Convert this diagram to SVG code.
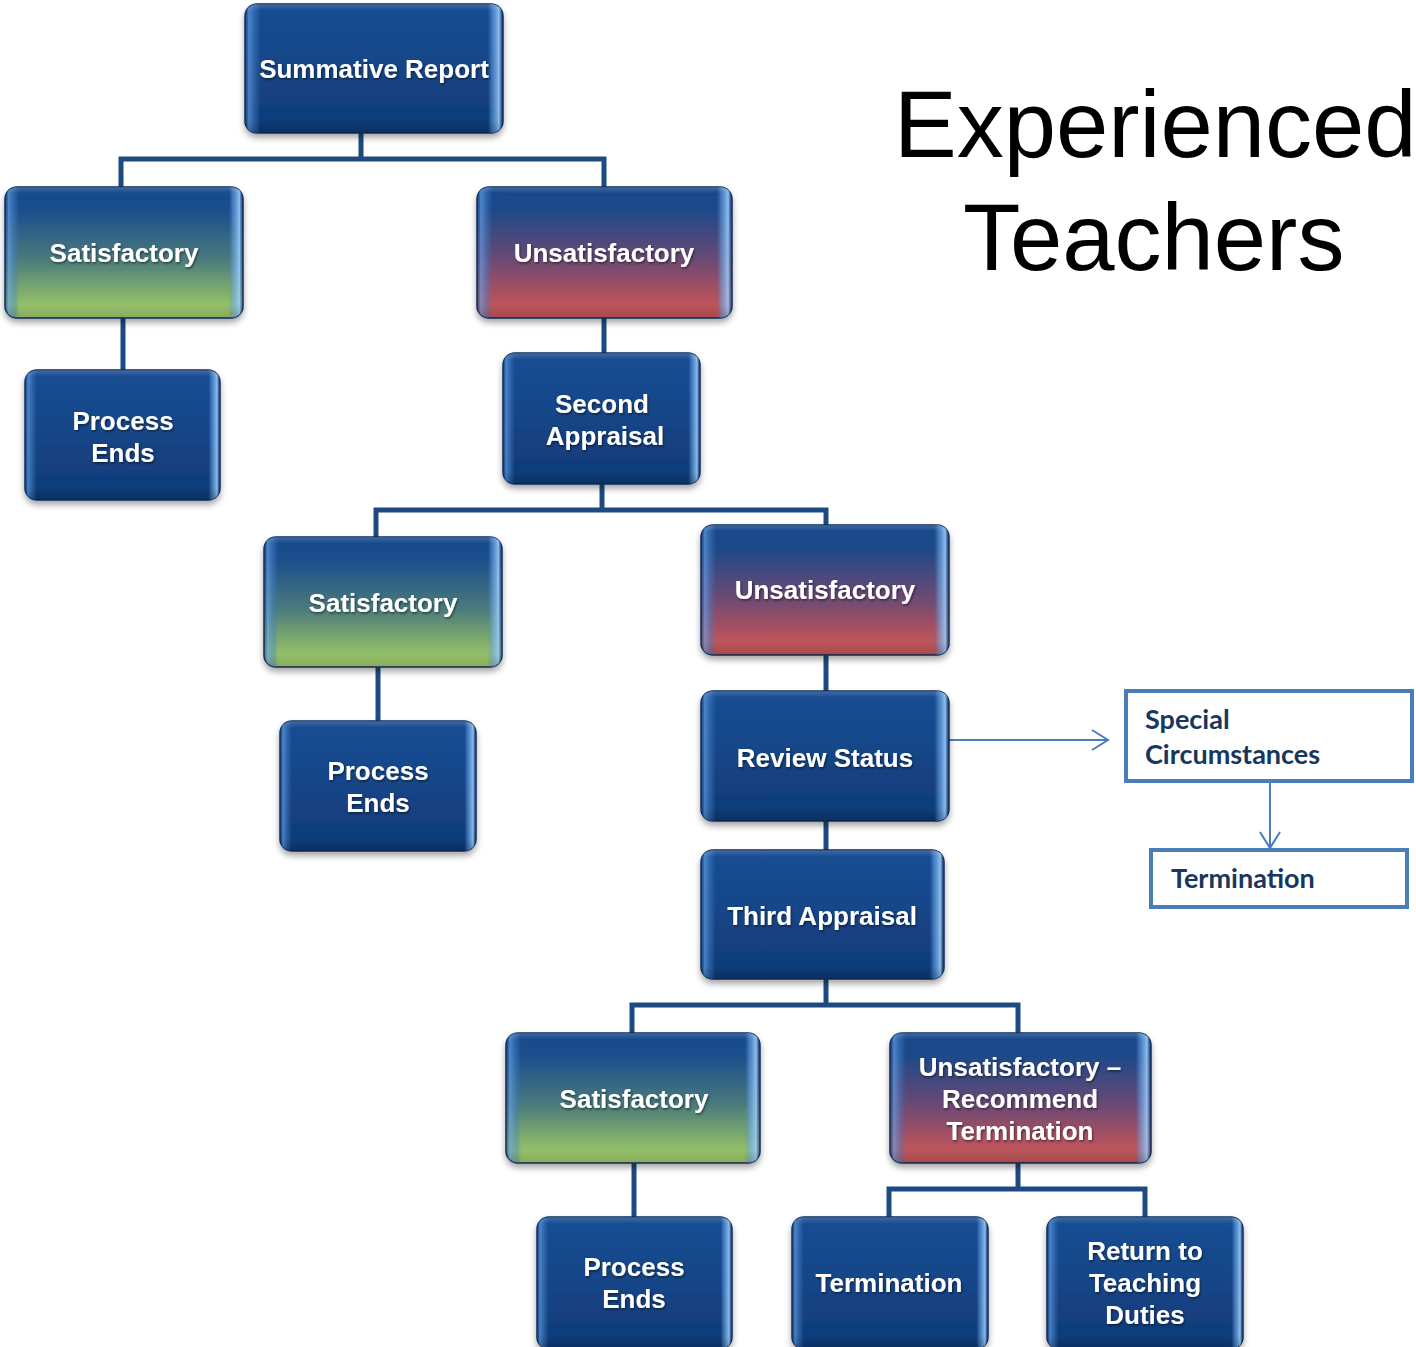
<svg xmlns="http://www.w3.org/2000/svg" width="1416" height="1347" viewBox="0 0 1416 1347">
  <defs>
    <linearGradient id="gBlue" x1="0" y1="0" x2="0" y2="1">
      <stop offset="0" stop-color="#1a4e93"/>
      <stop offset="0.5" stop-color="#154587"/>
      <stop offset="1" stop-color="#0f3a76"/>
    </linearGradient>
    <linearGradient id="gGreen" x1="0" y1="0" x2="0" y2="1">
      <stop offset="0" stop-color="#17498e"/>
      <stop offset="0.18" stop-color="#1b4f8c"/>
      <stop offset="0.55" stop-color="#4a7a7c"/>
      <stop offset="0.85" stop-color="#8ab769"/>
      <stop offset="1" stop-color="#a6ce6e"/>
    </linearGradient>
    <linearGradient id="gRed" x1="0" y1="0" x2="0" y2="1">
      <stop offset="0" stop-color="#17498e"/>
      <stop offset="0.18" stop-color="#1e4a88"/>
      <stop offset="0.55" stop-color="#6a4a74"/>
      <stop offset="0.85" stop-color="#b5525d"/>
      <stop offset="1" stop-color="#c85a5a"/>
    </linearGradient>
    <linearGradient id="bevelH" x1="0" y1="0" x2="1" y2="0">
      <stop offset="0" stop-color="#0b2756" stop-opacity="0.5"/>
      <stop offset="0.015" stop-color="#6aa6ea" stop-opacity="0.65"/>
      <stop offset="0.045" stop-color="#3f7cc8" stop-opacity="0.35"/>
      <stop offset="0.06" stop-color="#3f7cc8" stop-opacity="0"/>
      <stop offset="0.94" stop-color="#3f7cc8" stop-opacity="0"/>
      <stop offset="0.955" stop-color="#6aa6ea" stop-opacity="0.45"/>
      <stop offset="0.985" stop-color="#9ccbf7" stop-opacity="0.9"/>
      <stop offset="1" stop-color="#0b2756" stop-opacity="0.5"/>
    </linearGradient>
    <linearGradient id="bevelV" x1="0" y1="0" x2="0" y2="1">
      <stop offset="0" stop-color="#ffffff" stop-opacity="0.18"/>
      <stop offset="0.05" stop-color="#ffffff" stop-opacity="0"/>
      <stop offset="0.9" stop-color="#000000" stop-opacity="0"/>
      <stop offset="1" stop-color="#000000" stop-opacity="0.18"/>
    </linearGradient>
    <filter id="shadow" x="-10%" y="-10%" width="120%" height="130%">
      <feDropShadow dx="0" dy="4" stdDeviation="3" flood-color="#000000" flood-opacity="0.35"/>
    </filter>
    <filter id="txtShadow" x="-5%" y="-20%" width="110%" height="140%">
      <feDropShadow dx="1" dy="1.5" stdDeviation="1" flood-color="#000000" flood-opacity="0.5"/>
    </filter>
    <marker id="chevron" viewBox="0 0 20 24" refX="18" refY="12" markerWidth="20" markerHeight="24" markerUnits="userSpaceOnUse" orient="auto">
      <path d="M2,2 L18,12 L2,22" fill="none" stroke="#4a7ebb" stroke-width="2"/>
    </marker>
  </defs>
  <style>
    .base { filter: url(#shadow); stroke: #0c2b5c; stroke-width: 1.5; }
    .bh { fill: url(#bevelH); }
    .bv { fill: url(#bevelV); }
    .blue { fill: url(#gBlue); }
    .green { fill: url(#gGreen); }
    .red { fill: url(#gRed); }
    .label { font-family: "Liberation Sans", Arial, sans-serif; font-weight: bold; font-size: 26px; fill: #ffffff; text-anchor: middle; filter: url(#txtShadow); }
    .conn { fill: none; stroke: #1d4a80; stroke-width: 5; }
    .side { fill: #ffffff; stroke: #4a7ebb; stroke-width: 4; }
    .sideTxt { font-family: Lato, "Open Sans", sans-serif; font-weight: bold; font-size: 27px; fill: #17375e; }
    .thin { fill: none; stroke: #4a7ebb; stroke-width: 2; marker-end: url(#chevron); }
    .title { font-family: "Liberation Sans", Arial, sans-serif; font-size: 94px; fill: #000000; }
  </style>

  <!-- tree connectors -->
  <g id="connectors">
    <path class="conn" d="M361,133 V159 M121,187 V159 H604 V187"/>
    <path class="conn" d="M123,318 V370"/>
    <path class="conn" d="M604,318 V353"/>
    <path class="conn" d="M602,484 V510 M376,537 V510 H826 V525"/>
    <path class="conn" d="M378,667 V721"/>
    <path class="conn" d="M826,655 V691"/>
    <path class="conn" d="M826,821 V850"/>
    <path class="conn" d="M826,979 V1005 M632,1033 V1005 H1018 V1033"/>
    <path class="conn" d="M634,1163 V1217"/>
    <path class="conn" d="M1018,1163 V1189 M889,1217 V1189 H1145 V1217"/>
    <path class="thin" d="M935,740 H1108"/>
    <path class="thin" d="M1270,783 V848"/>
  </g>

  <!-- title -->
  <g id="title">
    <text class="title" x="894" y="157">Experienced</text>
    <text class="title" x="963" y="270">Teachers</text>
  </g>

  <g id="summative">
    <rect class="base blue" x="245" y="4" width="258" height="129" rx="12"/>
    <rect class="bh" x="245" y="4" width="258" height="129" rx="12"/>
    <rect class="bv" x="245" y="4" width="258" height="129" rx="12"/>
    <text class="label" x="374" y="78">Summative Report</text>
  </g>

  <g id="sat1">
    <rect class="base green" x="5" y="187" width="238" height="131" rx="12"/>
    <rect class="bh" x="5" y="187" width="238" height="131" rx="12"/>
    <rect class="bv" x="5" y="187" width="238" height="131" rx="12"/>
    <text class="label" x="124" y="262">Satisfactory</text>
  </g>

  <g id="unsat1">
    <rect class="base red" x="477" y="187" width="255" height="131" rx="12"/>
    <rect class="bh" x="477" y="187" width="255" height="131" rx="12"/>
    <rect class="bv" x="477" y="187" width="255" height="131" rx="12"/>
    <text class="label" x="604" y="262">Unsatisfactory</text>
  </g>

  <g id="ends1">
    <rect class="base blue" x="25" y="370" width="195" height="130" rx="12"/>
    <rect class="bh" x="25" y="370" width="195" height="130" rx="12"/>
    <rect class="bv" x="25" y="370" width="195" height="130" rx="12"/>
    <text class="label" x="123" y="430">Process</text>
    <text class="label" x="123" y="462">Ends</text>
  </g>

  <g id="second">
    <rect class="base blue" x="503" y="353" width="197" height="131" rx="12"/>
    <rect class="bh" x="503" y="353" width="197" height="131" rx="12"/>
    <rect class="bv" x="503" y="353" width="197" height="131" rx="12"/>
    <text class="label" x="602" y="413">Second</text>
    <text class="label" x="605" y="445">Appraisal</text>
  </g>

  <g id="sat2">
    <rect class="base green" x="264" y="537" width="238" height="130" rx="12"/>
    <rect class="bh" x="264" y="537" width="238" height="130" rx="12"/>
    <rect class="bv" x="264" y="537" width="238" height="130" rx="12"/>
    <text class="label" x="383" y="612">Satisfactory</text>
  </g>

  <g id="unsat2">
    <rect class="base red" x="701" y="525" width="248" height="130" rx="12"/>
    <rect class="bh" x="701" y="525" width="248" height="130" rx="12"/>
    <rect class="bv" x="701" y="525" width="248" height="130" rx="12"/>
    <text class="label" x="825" y="599">Unsatisfactory</text>
  </g>

  <g id="ends2">
    <rect class="base blue" x="280" y="721" width="196" height="130" rx="12"/>
    <rect class="bh" x="280" y="721" width="196" height="130" rx="12"/>
    <rect class="bv" x="280" y="721" width="196" height="130" rx="12"/>
    <text class="label" x="378" y="780">Process</text>
    <text class="label" x="378" y="812">Ends</text>
  </g>

  <g id="review">
    <rect class="base blue" x="701" y="691" width="248" height="130" rx="12"/>
    <rect class="bh" x="701" y="691" width="248" height="130" rx="12"/>
    <rect class="bv" x="701" y="691" width="248" height="130" rx="12"/>
    <text class="label" x="825" y="767">Review Status</text>
  </g>

  <g id="special">
    <rect class="side" x="1126" y="691" width="286" height="90"/>
    <text class="sideTxt" x="1145" y="729">Special</text>
    <text class="sideTxt" x="1145" y="764">Circumstances</text>
  </g>

  <g id="specialEnd">
    <rect class="side" x="1151" y="850" width="256" height="57"/>
    <text class="sideTxt" x="1171" y="888">Termination</text>
  </g>

  <g id="third">
    <rect class="base blue" x="701" y="850" width="243" height="129" rx="12"/>
    <rect class="bh" x="701" y="850" width="243" height="129" rx="12"/>
    <rect class="bv" x="701" y="850" width="243" height="129" rx="12"/>
    <text class="label" x="822" y="925">Third Appraisal</text>
  </g>

  <g id="sat3">
    <rect class="base green" x="506" y="1033" width="254" height="130" rx="12"/>
    <rect class="bh" x="506" y="1033" width="254" height="130" rx="12"/>
    <rect class="bv" x="506" y="1033" width="254" height="130" rx="12"/>
    <text class="label" x="634" y="1108">Satisfactory</text>
  </g>

  <g id="unsat3">
    <rect class="base red" x="890" y="1033" width="261" height="130" rx="12"/>
    <rect class="bh" x="890" y="1033" width="261" height="130" rx="12"/>
    <rect class="bv" x="890" y="1033" width="261" height="130" rx="12"/>
    <text class="label" x="1020" y="1076">Unsatisfactory –</text>
    <text class="label" x="1020" y="1108">Recommend</text>
    <text class="label" x="1020" y="1140">Termination</text>
  </g>

  <g id="ends3">
    <rect class="base blue" x="537" y="1217" width="195" height="132" rx="12"/>
    <rect class="bh" x="537" y="1217" width="195" height="132" rx="12"/>
    <rect class="bv" x="537" y="1217" width="195" height="132" rx="12"/>
    <text class="label" x="634" y="1276">Process</text>
    <text class="label" x="634" y="1308">Ends</text>
  </g>

  <g id="termination">
    <rect class="base blue" x="792" y="1217" width="196" height="132" rx="12"/>
    <rect class="bh" x="792" y="1217" width="196" height="132" rx="12"/>
    <rect class="bv" x="792" y="1217" width="196" height="132" rx="12"/>
    <text class="label" x="889" y="1292">Termination</text>
  </g>

  <g id="returnDuties">
    <rect class="base blue" x="1047" y="1217" width="196" height="132" rx="12"/>
    <rect class="bh" x="1047" y="1217" width="196" height="132" rx="12"/>
    <rect class="bv" x="1047" y="1217" width="196" height="132" rx="12"/>
    <text class="label" x="1145" y="1260">Return to</text>
    <text class="label" x="1145" y="1292">Teaching</text>
    <text class="label" x="1145" y="1324">Duties</text>
  </g>
</svg>
